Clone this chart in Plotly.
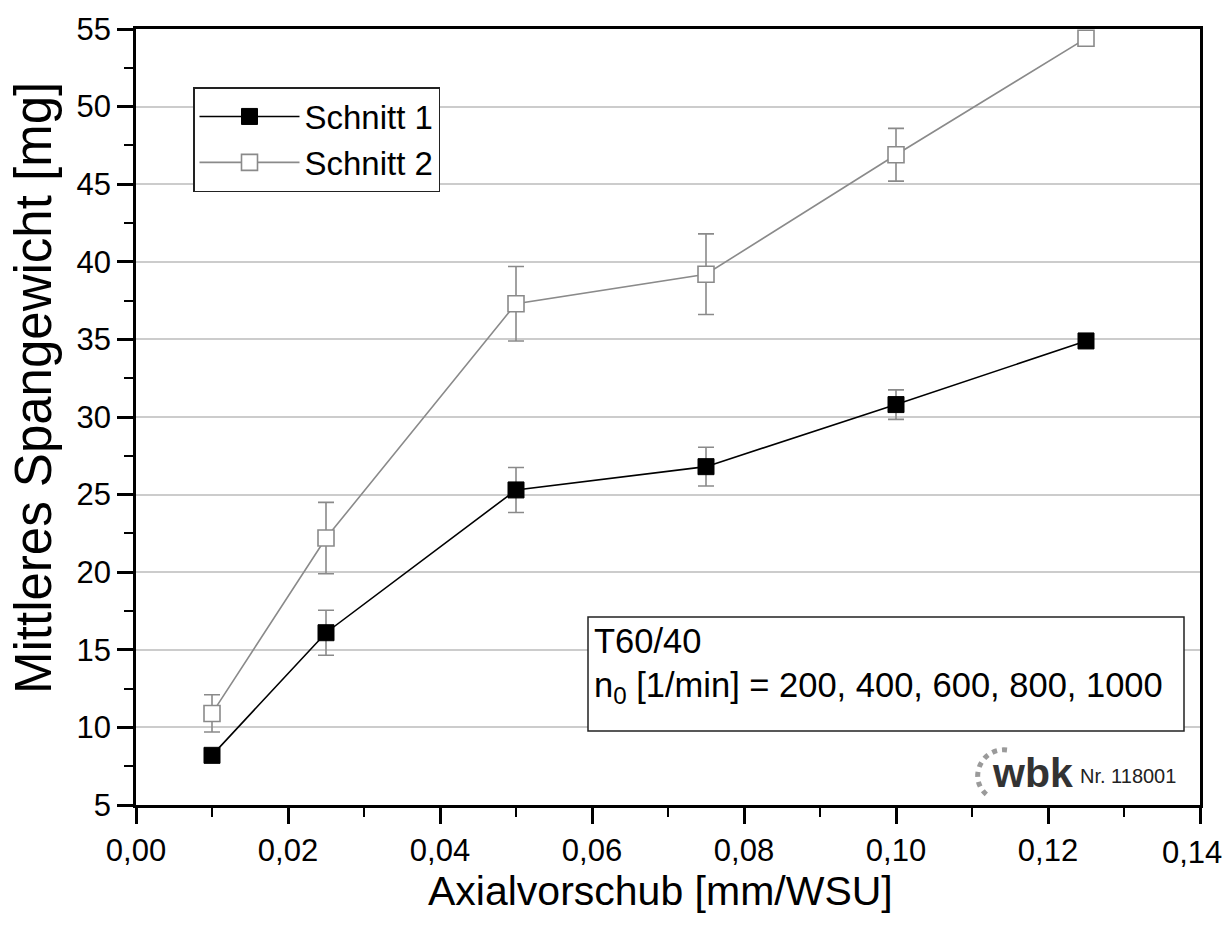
import plotly.graph_objects as go

# Axial feed [mm/WSU]
feed = [0.01, 0.025, 0.05, 0.075, 0.10, 0.125]

# Mean chip weight [mg] and standard deviation per cut
schnitt1 = [8.2, 16.1, 25.3, 26.8, 30.8, 34.9]
schnitt1_err = [0.3, 1.45, 1.45, 1.25, 0.95, 0.0]
schnitt2 = [10.9, 22.2, 37.3, 39.2, 46.9, 54.4]
schnitt2_err = [1.2, 2.3, 2.4, 2.6, 1.7, 0.0]

# axis ticks
x_ticks = [0.0, 0.02, 0.04, 0.06, 0.08, 0.10, 0.12, 0.14]
y_ticks = [5, 10, 15, 20, 25, 30, 35, 40, 45, 50, 55]

FONT = "Liberation Sans"

# plot area in pixels (for placing decorations in paper coordinates)
L, R, T, B = 136, 1200, 29, 805


def px(x):
    return (x - L) / (R - L)


def py(y):
    return (B - y) / (B - T)


def fmt(v):
    return f"{v:.2f}".replace(".", ",")


# the last x label sits at the page edge, so it is placed right-aligned
x_text = [fmt(v) for v in x_ticks[:-1]] + [""]

fig = go.Figure()

fig.add_trace(go.Scatter(
    x=feed, y=schnitt2, name="Schnitt 2", mode="lines+markers",
    line=dict(color="#8a8a8a", width=1.6),
    marker=dict(symbol="square", size=16, color="white",
                line=dict(color="#8a8a8a", width=1.6)),
    error_y=dict(type="data", array=schnitt2_err, visible=True,
                 color="#8a8a8a", thickness=1.6, width=8),
))
fig.add_trace(go.Scatter(
    x=feed, y=schnitt1, name="Schnitt 1", mode="lines+markers",
    line=dict(color="black", width=1.6),
    marker=dict(symbol="square", size=16, color="black",
                line=dict(color="black", width=1)),
    error_y=dict(type="data", array=schnitt1_err, visible=True,
                 color="#8a8a8a", thickness=1.6, width=8),
))

shapes = [
    # parameter box
    dict(type="rect", xref="paper", yref="paper",
         x0=px(588), x1=px(1184), y0=py(731), y1=py(617),
         line=dict(color="#222", width=1.5), fillcolor="white", layer="above"),
    # dotted arc of the logo
    dict(type="path", xref="paper", yref="paper",
         path=(f"M {px(1007)} {py(750)} C {px(980)} {py(747)} "
               f"{px(966)} {py(782)} {px(990)} {py(797)}"),
         line=dict(color="#9a9a9a", width=5, dash="dot"), layer="above"),
]

annotations = [
    dict(xref="paper", yref="paper", x=px(592), y=py(641), xanchor="left",
         yanchor="middle", text="T60/40", showarrow=False,
         font=dict(family=FONT, size=34.5, color="black")),
    dict(xref="paper", yref="paper", x=px(592), y=py(687), xanchor="left",
         yanchor="middle", text="n<sub>0</sub> [1/min] = 200, 400, 600, 800, 1000",
         showarrow=False, font=dict(family=FONT, size=34.5, color="black")),
    dict(xref="paper", yref="paper", x=px(990), y=py(773), xanchor="left",
         yanchor="middle", text="<b>wbk</b>", showarrow=False,
         font=dict(family=FONT, size=41, color="#333333")),
    dict(xref="paper", yref="paper", x=px(1078), y=py(776), xanchor="left",
         yanchor="middle", text="Nr. 118001", showarrow=False,
         font=dict(family=FONT, size=20, color="#222222")),
    # last x tick label
    dict(xref="x", yref="paper", x=x_ticks[-1], y=py(852), xanchor="right",
         xshift=24, yanchor="middle", text=fmt(x_ticks[-1]), showarrow=False,
         font=dict(family=FONT, size=31, color="black")),
    # axis titles
    dict(xref="paper", yref="paper", x=px(660), y=py(891), xanchor="center",
         yanchor="middle", text="Axialvorschub [mm/WSU]", showarrow=False,
         font=dict(family=FONT, size=41, color="black")),
    dict(xref="paper", yref="paper", x=px(33), y=py(388), xanchor="center",
         yanchor="middle", text="Mittleres Spangewicht [mg]", showarrow=False,
         textangle=-90, font=dict(family=FONT, size=51, color="black")),
]

fig.update_layout(
    width=1228, height=929,
    margin=dict(l=L, r=1228 - R, t=T, b=929 - B),
    paper_bgcolor="white", plot_bgcolor="white",
    font=dict(family=FONT, color="black"),
    showlegend=True,
    legend=dict(x=px(193), y=py(87), xanchor="left", yanchor="top",
                bgcolor="white", bordercolor="#222", borderwidth=1.5,
                font=dict(family=FONT, size=33), traceorder="reversed",
                itemwidth=100),
    shapes=shapes,
    annotations=annotations,
    xaxis=dict(
        range=[0, 0.14], tickmode="array", tickvals=x_ticks,
        ticktext=x_text, automargin=False,
        ticks="outside", ticklen=16, tickwidth=2.5, tickcolor="black",
        minor=dict(dtick=0.01, tick0=0, ticks="outside", ticklen=9,
                   tickwidth=2, tickcolor="black", showgrid=False),
        showline=True, linewidth=2.5, linecolor="black", mirror=True,
        showgrid=False, zeroline=False,
        tickfont=dict(family=FONT, size=31),
    ),
    yaxis=dict(
        range=[5, 55], tickmode="array", tickvals=y_ticks,
        automargin=False,
        ticks="outside", ticklen=16, tickwidth=2.5, tickcolor="black",
        minor=dict(dtick=2.5, tick0=5, ticks="outside", ticklen=9,
                   tickwidth=2, tickcolor="black", showgrid=False),
        showline=True, linewidth=2.5, linecolor="black", mirror=True,
        showgrid=True, gridcolor="#cccccc", gridwidth=1.5, zeroline=False,
        tickfont=dict(family=FONT, size=31),
    ),
)

fig.write_html("out.html")
